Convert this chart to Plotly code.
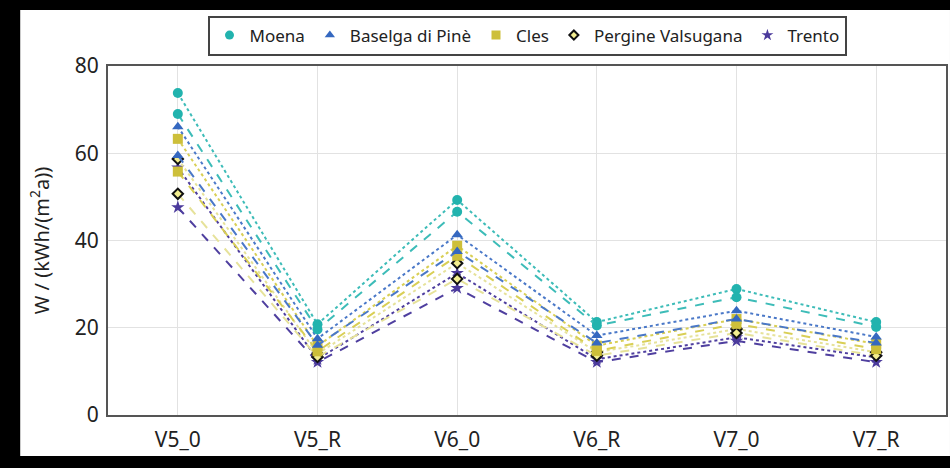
import plotly.graph_objects as go

categories = ["V5_0", "V5_R", "V6_0", "V6_R", "V7_0", "V7_R"]
locations = ["Moena", "Baselga di Pinè", "Cles", "Pergine Valsugana", "Trento"]

moena_a = [73.8, 20.8, 49.3, 21.3, 28.9, 21.3]
moena_b = [69.0, 19.6, 46.6, 20.5, 27.0, 20.2]
baselga_a = [66.1, 17.5, 41.3, 18.2, 23.9, 17.9]
baselga_b = [59.5, 16.0, 37.5, 16.5, 22.0, 16.5]
cles_a = [63.3, 15.8, 38.8, 15.9, 22.0, 16.3]
cles_b = [55.8, 14.6, 36.5, 14.7, 20.9, 15.1]
pergine_a = [58.7, 14.0, 34.8, 14.4, 19.7, 14.4]
pergine_b = [50.7, 13.3, 31.2, 13.6, 18.8, 13.6]
trento_a = [56.7, 12.8, 32.5, 12.8, 17.8, 13.2]
trento_b = [47.6, 12.1, 29.1, 12.1, 17.0, 12.1]

yticks = [0, 20, 40, 60, 80]

series = {
    "Moena": (moena_a, moena_b),
    "Baselga di Pinè": (baselga_a, baselga_b),
    "Cles": (cles_a, cles_b),
    "Pergine Valsugana": (pergine_a, pergine_b),
    "Trento": (trento_a, trento_b),
}

line_colors = {
    "Moena": "#3dbcb8",
    "Baselga di Pinè": "#4a78c8",
    "Cles": "#d9cf55",
    "Pergine Valsugana": "#e6e29a",
    "Trento": "#4f3f9f",
}
markers = {
    "Moena": dict(symbol="circle", color="#22b3ae", size=10, line=dict(width=0)),
    "Baselga di Pinè": dict(symbol="triangle-up", color="#3568c0", size=10, line=dict(width=0)),
    "Cles": dict(symbol="square", color="#cdbf3a", size=10, line=dict(width=0)),
    "Pergine Valsugana": dict(symbol="diamond", color="#f3ee90", size=8, line=dict(width=2, color="#111111")),
    "Trento": dict(symbol="star", color="#4b3a9c", size=10, line=dict(width=0)),
}

fig = go.Figure()

for loc in reversed(locations):
    a, b = series[loc]
    for vals, dash in ((a, "dot"), (b, "dash")):
        fig.add_trace(go.Scatter(
            x=categories, y=vals, mode="lines+markers",
            line=dict(color=line_colors[loc], width=2, dash=dash),
            marker=markers[loc], showlegend=False, hoverinfo="skip",
        ))

for loc in locations:
    m = dict(markers[loc])
    m["size"] = 9 if loc != "Pergine Valsugana" else 7
    fig.add_trace(go.Scatter(
        x=[None], y=[None], mode="markers", name=loc, marker=m, showlegend=True,
    ))

L, R, T, B = 108, 2, 66, 53
W, H = 950, 468
pw, ph = W - L - R, H - T - B

def px_x(px):
    return (px - L) / pw

def px_y(py):
    return (H - B - py) / ph

fig.add_shape(type="rect", xref="paper", yref="paper",
              x0=px_x(20), x1=px_x(952), y0=px_y(456), y1=px_y(10),
              fillcolor="white", line=dict(width=0), layer="below")

fig.update_layout(
    width=W, height=H,
    margin=dict(l=L, r=R, t=T, b=B),
    paper_bgcolor="black", plot_bgcolor="white",
    font=dict(family="Noto Sans, Open Sans, sans-serif", size=20, color="#222222"),
    legend=dict(orientation="h", x=0.5, xanchor="center", y=1.03, yanchor="bottom",
                bgcolor="white", bordercolor="#444444", borderwidth=2,
                font=dict(size=17, color="#222222"), itemwidth=30,
                tracegroupgap=0),
    xaxis=dict(range=[-0.5, 5.5], showgrid=True, gridcolor="#e2e2e2", gridwidth=1,
               showline=True, linecolor="#555555", linewidth=2, mirror=True,
               ticks="outside", ticklen=5, tickcolor="rgba(0,0,0,0)",
               tickfont=dict(size=21, color="#222222")),
    yaxis=dict(range=[0, 80], tickvals=yticks, showgrid=True, gridcolor="#e2e2e2",
               gridwidth=1, showline=True, linecolor="#555555", linewidth=2, mirror=True,
               ticks="outside", ticklen=3, tickcolor="rgba(0,0,0,0)",
               zeroline=False, tickfont=dict(size=21, color="#222222"),
               title=dict(text="W / (kWh/(m<sup>2</sup>a))", standoff=20,
                          font=dict(size=20, color="#222222"))),
)

fig.write_html("out.html")
